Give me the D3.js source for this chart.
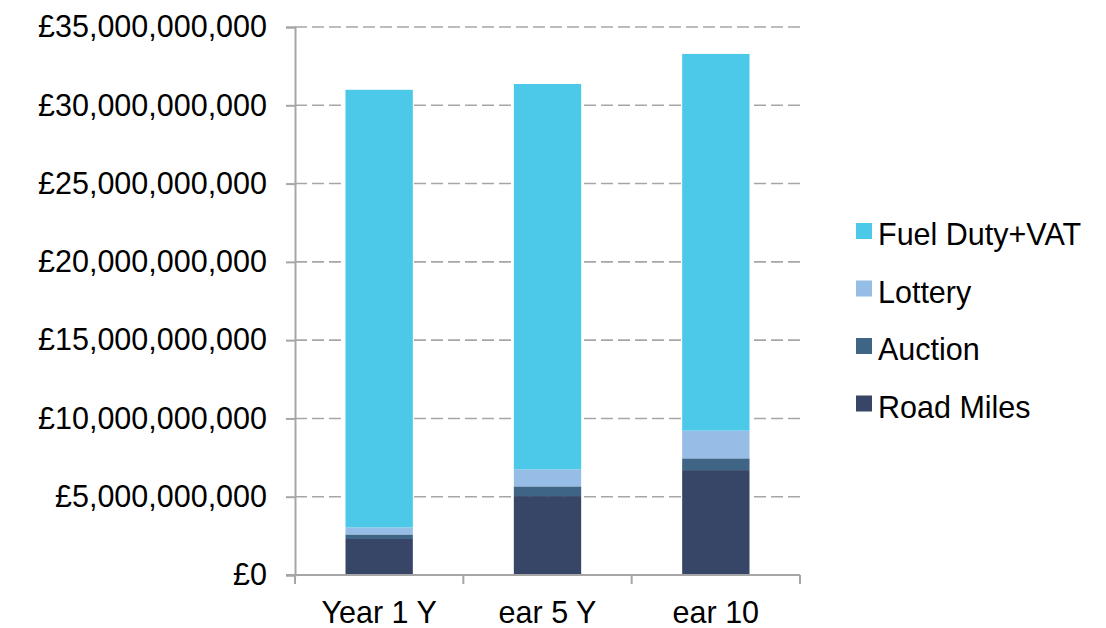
<!DOCTYPE html>
<html>
<head>
<meta charset="utf-8">
<script src="https://cdn.jsdelivr.net/npm/d3@7"></script>
<style>
  html, body { margin: 0; padding: 0; background: #fff; }
  svg { display: block; }
  text { font-family: "Liberation Sans", Arial, sans-serif; fill: #000; }
</style>
</head>
<body>
<svg id="chart" width="1106" height="628"></svg>
<script>
// ---- data ----
const categories = ["Year 1 Y", "ear 5 Y", "ear 10"];
const seriesNames = ["Road Miles", "Auction", "Lottery", "Fuel Duty+VAT"];
const roadMiles = [2.30e9, 5.04e9, 6.70e9];
const auction   = [0.29e9, 0.62e9, 0.75e9];
const lottery   = [0.45e9, 1.09e9, 1.77e9];
const fuelDutyVat = [27.95e9, 24.61e9, 24.06e9];
const yTicks = [0, 5e9, 10e9, 15e9, 20e9, 25e9, 30e9, 35e9];
const colors = ["#374667", "#3F6586", "#95BDE5", "#4CC8E9"];

(function () {
// ---- build table ----
const seriesValues = [roadMiles, auction, lottery, fuelDutyVat];
const rows = categories.map((c, i) => {
  const r = { cat: c };
  seriesNames.forEach((s, j) => r[s] = seriesValues[j][i]);
  return r;
});
const stacked = d3.stack().keys(seriesNames)(rows);

const svg = d3.select("#chart");
const mLeft = 295, mRight = 800, mTop = 27, mBottom = 575;
const fontSize = 30.5;

const x = d3.scaleBand().domain(categories).range([mLeft, mRight])
  .paddingInner(0.6).paddingOuter(0.3);
const y = d3.scaleLinear().domain([0, 35e9]).range([mBottom, mTop]);

// gridlines
svg.append("g").selectAll("line").data(yTicks.filter(d => d > 0)).join("line")
  .attr("x1", mLeft).attr("x2", mRight)
  .attr("y1", d => y(d)).attr("y2", d => y(d))
  .attr("stroke", "#A6A6A6").attr("stroke-width", 1.6)
  .attr("stroke-dasharray", "12,5");

// bars
svg.append("g").selectAll("g").data(stacked).join("g")
  .attr("fill", (d, i) => colors[i])
  .selectAll("rect").data(d => d).join("rect")
  .attr("x", d => x(d.data.cat))
  .attr("width", x.bandwidth())
  .attr("y", d => y(d[1]))
  .attr("height", d => y(d[0]) - y(d[1]));

// y axis
const yAxis = d3.axisLeft(y).tickValues(yTicks)
  .tickFormat(d => "£" + d3.format(",")(d))
  .tickSize(9).tickPadding(19);
const gy = svg.append("g").attr("transform", `translate(${mLeft},0)`).call(yAxis);
gy.select(".domain").attr("stroke", "#A6A6A6").attr("stroke-width", 2);
gy.selectAll(".tick line").attr("stroke", "#A6A6A6").attr("stroke-width", 2);
gy.selectAll(".tick text").style("font-size", fontSize + "px")
  .style("font-family", '"Liberation Sans", Arial, sans-serif').attr("fill", "#000");

// x axis (labels centered, ticks at category boundaries)
const xAxis = d3.axisBottom(x).tickSize(0).tickPadding(26);
const gx = svg.append("g").attr("transform", `translate(0,${mBottom})`).call(xAxis);
gx.select(".domain").remove();
gx.selectAll(".tick text").style("font-size", fontSize + "px")
  .style("font-family", '"Liberation Sans", Arial, sans-serif').attr("fill", "#000");
gx.append("line").attr("x1", mLeft - 9).attr("x2", mRight)
  .attr("y1", 0).attr("y2", 0)
  .attr("stroke", "#A6A6A6").attr("stroke-width", 2);
const step = x.step();
const bounds = d3.range(categories.length + 1).map(i => mLeft + i * step);
gx.selectAll("line.bound").data(bounds).join("line").attr("class", "bound")
  .attr("x1", d => d).attr("x2", d => d).attr("y1", 0).attr("y2", 9)
  .attr("stroke", "#A6A6A6").attr("stroke-width", 2);

// legend
const legendItems = seriesNames.slice().reverse();
const legendColors = colors.slice().reverse();
const lg = svg.append("g").attr("transform", "translate(856,223)");
const li = lg.selectAll("g").data(legendItems).join("g")
  .attr("transform", (d, i) => `translate(0,${i * 57.5})`);
li.append("rect").attr("width", 16).attr("height", 16)
  .attr("fill", (d, i) => legendColors[i]);
li.append("text").attr("x", 22).attr("y", 22)
  .style("font-size", fontSize + "px").text(d => d);
})();
</script>
</body>
</html>
